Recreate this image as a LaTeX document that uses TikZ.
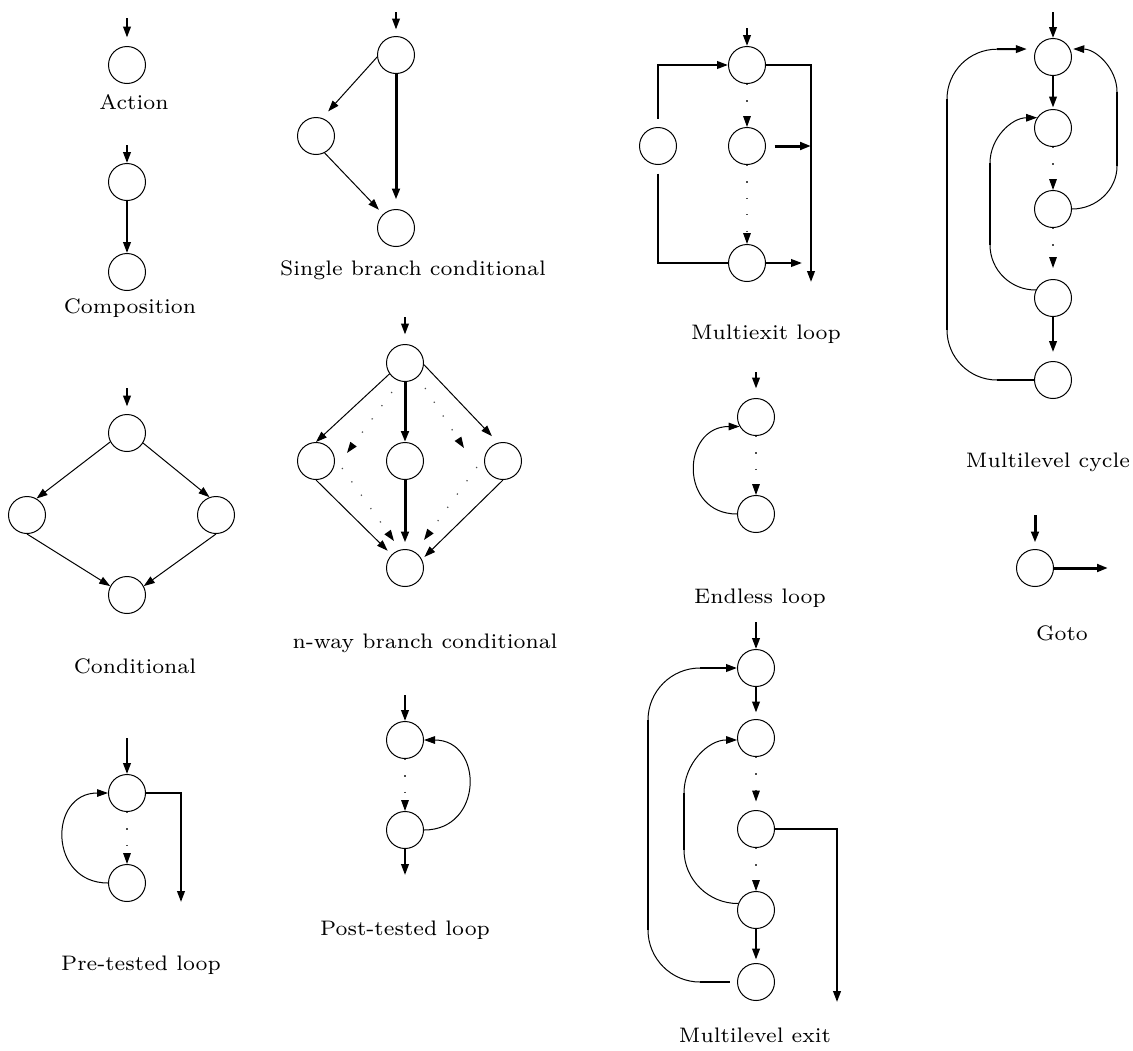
\documentclass[tikz,border=0pt]{standalone}
\usetikzlibrary{arrows.meta}
\newcommand{\mylab}[1]{\scalebox{1.5}{\fontsize{7pt}{8pt}\selectfont #1}}
\begin{document}
\begin{tikzpicture}[x=0.5pt,y=-0.5pt,
  st/.style={circle,draw,line width=0.5pt,minimum size=18.5pt,inner sep=0pt},
  arw/.style={-{Triangle[length=5.5pt,width=3.8pt,color=black]}},
  ln/.style={line width=0.5pt},
  md/.style={line width=1pt},
  hv/.style={line width=1.5pt},
  dt/.style={line width=0.6pt,dash pattern=on 0.6pt off 7.6pt,draw=black!70},
  lab/.style={inner sep=0pt}]
\useasboundingbox (0,0) rectangle (1133,1050);

% Action
\coordinate (a0) at (127,18);
\node[st] (a1) at (127,65) {};
\draw[md,arw,shorten >=4.25pt] (a0) -- (a1);
\node[lab] (la) at (134,102) {\mylab{Action}};

% Composition
\coordinate (c0) at (127,145);
\node[st] (c1) at (127,182) {};
\node[st] (c2) at (127,272) {};
\draw[md,arw] (c0) -- (c1);
\draw[md,arw] (c1) -- (c2);
\node[lab] (lc) at (130,308) {\mylab{Composition}};

% Conditional
\coordinate (k0) at (127,388);
\node[st] (k1) at (127,433) {};
\node[st] (k2) at (27,515) {};
\node[st] (k3) at (216,515) {};
\node[st] (k4) at (127,595) {};
\draw[md,arw,shorten >=3.75pt] (k0) -- (k1);
\draw[ln,arw] (k1.208) -- (k2.60);
\draw[ln,arw] (k1.-32) -- (k3.110);
\draw[ln,arw] (k2.south) -- (k4.152);
\draw[ln,arw] (k3.south) -- (k4.28);
\node[lab] (lk) at (135,666) {\mylab{Conditional}};

% Pre-tested loop
\coordinate (p0) at (127,738);
\node[st] (p1) at (127,793) {};
\node[st] (p2) at (127,883) {};
\coordinate (pc) at (181,793);
\coordinate (pe) at (181,902);
\draw[md,arw] (p0) -- (p1);
\draw[md,arw] (p1.east) -- (pc) -- (pe);
\draw[dt,arw] (p1) -- (p2);
\draw[ln,arw] (p2.west) to[out=180,in=180,looseness=1.7] (p1.west);
\node[lab] (lp) at (141,965) {\mylab{Pre-tested loop}};

% Single branch conditional
\coordinate (s0) at (396,12);
\node[st] (s1) at (396,55) {};
\node[st] (s2) at (316,136) {};
\node[st] (s3) at (396,228) {};
\draw[md,arw,shorten >=3.25pt] (s0) -- (s1);
\draw[hv,arw,shorten >=4.75pt] (s1) -- (s3);
\draw[ln,arw,shorten >=4.5pt] (s1.186) -- (s2.71);
\draw[ln,arw,shorten >=3pt] (s2.-63) -- (s3.133);
\node[lab] (ls) at (413,270) {\mylab{Single branch conditional}};

% n-way branch conditional
\coordinate (n0) at (405,317);
\node[st] (n1) at (405,363) {};
\node[st] (n2) at (316,461) {};
\node[st] (n3) at (405,461) {};
\node[st] (n4) at (503,461) {};
\node[st] (n5) at (405,568) {};
\draw[md,arw,shorten >=4.75pt] (n0) -- (n1);
\draw[hv,arw] (n1) -- (n3);
\draw[hv,arw,shorten >=3.25pt] (n3) -- (n5);
\draw[ln,arw] (n1.215) -- (n2.north);
\draw[ln,arw,shorten >=4.5pt] (n1.-5) -- (n4.105);
\draw[ln,arw,shorten >=2.75pt] (n2.south) -- (n5.135);
\draw[ln,arw,shorten >=1.75pt] (n4.south) -- (n5.27);
\coordinate (na) at (392,392);
\coordinate (nb) at (347,453);
\coordinate (nc) at (342,468);
\coordinate (nd) at (394,541);
\coordinate (ne) at (425,388);
\coordinate (nf) at (464,448);
\coordinate (ng) at (477,467);
\coordinate (nh) at (424,540);
\draw[dt,arw] (na) -- (nb);
\draw[dt,arw] (nc) -- (nd);
\draw[dt,arw] (ne) -- (nf);
\draw[dt,arw] (ng) -- (nh);
\node[lab] (ln) at (425,643) {\mylab{n-way branch conditional}};

% Post-tested loop
\coordinate (q0) at (405,695);
\node[st] (q1) at (405,740) {};
\node[st] (q2) at (405,830) {};
\coordinate (qe) at (405,875);
\draw[md,arw] (q0) -- (q1);
\draw[md,arw] (q2) -- (qe);
\draw[dt,arw] (q1) -- (q2);
\draw[ln,arw] (q2.east) to[out=0,in=0,looseness=1.7] (q1.east);
\node[lab] (lq) at (405,930) {\mylab{Post-tested loop}};

% Multiexit loop
\coordinate (m0) at (747,28);
\node[st] (m1) at (747,65) {};
\node[st] (m2) at (747,146) {};
\node[st] (m3) at (747,263) {};
\node[st] (m4) at (658,146) {};
\coordinate (mx) at (811,282);
\coordinate (mj) at (811,146);
\coordinate (mb) at (802,263);
\draw[md,arw] (m0) -- (m1);
\draw[md,arw,shorten <=4.25pt] (m4.north) |- (m1.west);
\draw[md,shorten <=4.25pt] (m4.south) |- (m3.west);
\draw[md,arw] (m1.east) -| (mx);
\draw[hv,arw,shorten <=4.25pt] (m2.east) -- (mj);
\draw[md,arw] (m3.east) -- (mb);
\draw[dt,arw] (m1) -- (m2);
\draw[dt,arw] (m2) -- (m3);
\node[lab] (lm) at (766,334) {\mylab{Multiexit loop}};

% Endless loop
\coordinate (e0) at (756,372);
\node[st] (e1) at (756,417) {};
\node[st] (e2) at (756,514) {};
\draw[md,arw,shorten >=4.75pt] (e0) -- (e1);
\draw[dt,arw] (e1) -- (e2);
\draw[ln,arw] (e2.west) to[out=180,in=180,looseness=1.7] (e1.210);
\node[lab] (le) at (760,598) {\mylab{Endless loop}};

% Multilevel exit
\coordinate (x0) at (756,622);
\node[st] (x1) at (756,668) {};
\node[st] (x2) at (756,738) {};
\node[st] (x3) at (756,829) {};
\node[st] (x4) at (756,910) {};
\node[st] (x5) at (756,982) {};
\coordinate (xe) at (837,1002);
\draw[md,arw] (x0) -- (x1);
\draw[md,arw,shorten >=3.25pt] (x1) -- (x2);
\draw[dt,arw,shorten >=4.25pt] (x2) -- (x3);
\draw[dt,arw] (x3) -- (x4);
\draw[md,arw,shorten >=1.75pt] (x4) -- (x5);
\draw[md,arw] (x3.east) -| (xe);
\coordinate (xa) at (700,982);
\coordinate (xb) at (648,930);
\coordinate (xc) at (648,720);
\coordinate (xd) at (700,668);
\draw[md,shorten <=3.75pt] (x5.west) -- (xa);
\draw[ln] (xa) .. controls (671.3,982) and (648,958.7) .. (xb);
\draw[md] (xb) -- (xc);
\draw[ln] (xc) .. controls (648,691.3) and (671.3,668) .. (xd);
\draw[md,arw] (xd) -- (x1.west);
\coordinate (xf) at (684,850);
\coordinate (xg) at (684,793);
\draw[ln] (x4.160) .. controls (708.6,903.7) and (684,879.7) .. (xf);
\draw[md] (xf) -- (xg);
\draw[ln,arw] (xg) .. controls (684,763.7) and (708,739.9) .. (x2.186);
\node[lab] (lx) at (755,1035) {\mylab{Multilevel exit}};

% Multilevel cycle
\coordinate (d0) at (1053,12);
\node[st] (d1) at (1053,57) {};
\node[st] (d2) at (1053,128) {};
\node[st] (d3) at (1053,209) {};
\node[st] (d4) at (1053,298) {};
\node[st] (d5) at (1053,380) {};
\draw[md,arw] (d0) -- (d1);
\draw[md,arw,shorten >=0.75pt] (d1) -- (d2);
\draw[dt,arw] (d2) -- (d3);
\draw[dt,arw,shorten >=5.5pt] (d3) -- (d4);
\draw[md,arw,shorten >=4.5pt] (d4) -- (d5);
\coordinate (da) at (997,380);
\coordinate (db) at (947,330);
\coordinate (dc) at (947,99);
\coordinate (dd) at (997,49.2);
\draw[md] (d5.west) -- (da);
\draw[ln] (da) .. controls (969.4,380) and (947,357.6) .. (db);
\draw[md] (db) -- (dc);
\draw[ln] (dc) .. controls (947,71.4) and (969.4,49.2) .. (dd);
\draw[md,arw,shorten >=4.5pt] (dd) -- (d1.155);
\coordinate (de) at (1117,166);
\coordinate (df) at (1117,92);
\draw[ln] (d3.east) .. controls (1096.6,209) and (1117,189.7) .. (de);
\draw[md] (de) -- (df);
\draw[ln,arw,shorten >=1.5pt] (df) .. controls (1117,68.4) and (1095.9,49.2) .. (d1.25);
\coordinate (dg) at (990,245);
\coordinate (dh) at (990,163);
\draw[ln] (d4.155) .. controls (1010.7,290.2) and (990,270) .. (dg);
\draw[md] (dg) -- (dh);
\draw[ln,arw] (dh) .. controls (990,138.1) and (1011.3,117.9) .. (d2.147);
\node[lab] (ld) at (1048,462) {\mylab{Multilevel cycle}};

% Goto
\coordinate (g0) at (1035,515);
\node[st] (g1) at (1035,568) {};
\coordinate (gx) at (1108,568);
\draw[hv,arw,shorten >=3.25pt] (g0) -- (g1);
\draw[hv,arw] (g1.east) -- (gx);
\node[lab] (lg) at (1062,633) {\mylab{Goto}};
\end{tikzpicture}
\end{document}
